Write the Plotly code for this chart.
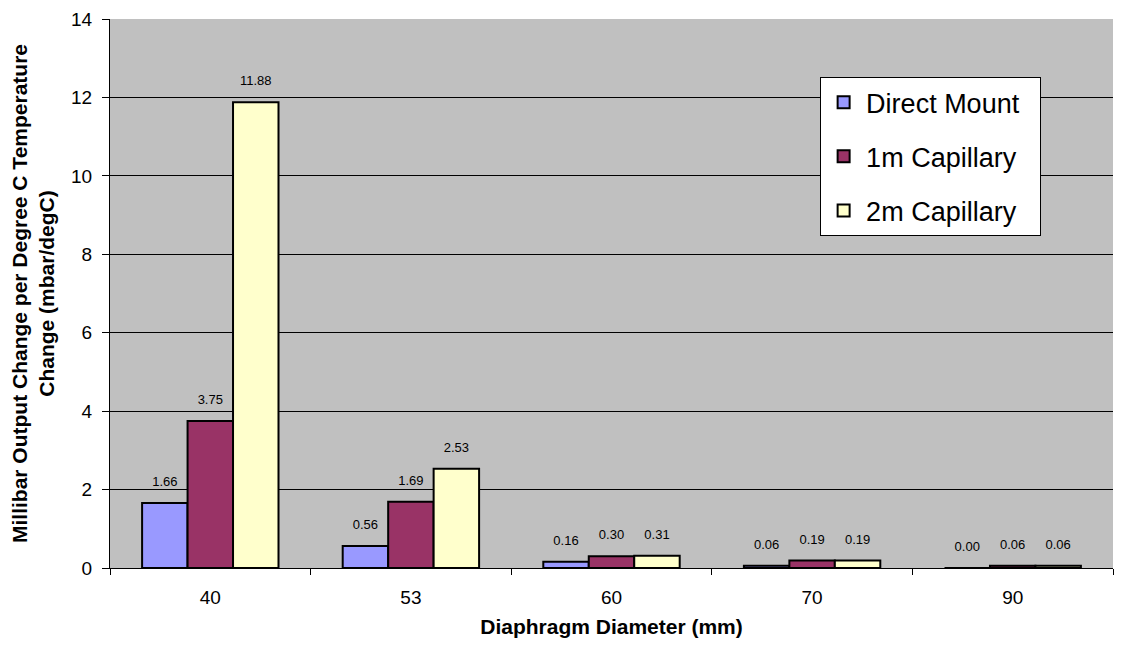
import plotly.graph_objects as go

categories = ["40", "53", "60", "70", "90"]
direct_mount = [1.66, 0.56, 0.16, 0.06, 0.00]
capillary_1m = [3.75, 1.69, 0.30, 0.19, 0.06]
capillary_2m = [11.88, 2.53, 0.31, 0.19, 0.06]
series_names = ["Direct Mount", "1m Capillary", "2m Capillary"]
series_colors = ["#9999FF", "#993366", "#FFFFCC"]
y_ticks = [0, 2, 4, 6, 8, 10, 12, 14]

FONT = "Liberation Sans, Arial, sans-serif"

fig = go.Figure()
all_series = [direct_mount, capillary_1m, capillary_2m]
for name, vals, col in zip(series_names, all_series, series_colors):
    fig.add_trace(go.Bar(
        x=categories, y=vals, name=name + "\u00a0\u00a0", legendgroup=name,
        marker=dict(color=col, line=dict(color="black", width=2)),
    ))
for name, vals in zip(series_names, all_series):
    fig.add_trace(go.Scatter(
        x=categories, y=vals, mode="markers+text", showlegend=False,
        text=[f"{v:.2f}" for v in vals], textposition="top center",
        textfont=dict(family=FONT, size=13, color="black"),
        marker=dict(size=20, opacity=0), hoverinfo="skip",
    ))

fig.update_layout(
    width=1114, height=640,
    margin=dict(l=102, r=9, t=11, b=80, autoexpand=False),
    paper_bgcolor="white", plot_bgcolor="#C0C0C0",
    barmode="group", bargap=0.32, bargroupgap=0,
    scattermode="group", scattergap=0.32,
    font=dict(family=FONT, color="black"),
    legend=dict(
        x=0.708, y=0.894, xanchor="left", yanchor="top",
        bgcolor="white", bordercolor="black", borderwidth=1,
        font=dict(family=FONT, size=27, color="black"),
        traceorder="grouped", tracegroupgap=16, itemwidth=35,
    ),
    showlegend=True,
)
fig.update_xaxes(
    type="category", tickson="boundaries", ticks="outside", ticklen=6,
    tickcolor="black", showline=True, linecolor="black", linewidth=1,
    tickfont=dict(family=FONT, size=19), ticklabelstandoff=12,
    title=dict(text="<b>Diaphragm Diameter (mm)</b>", font=dict(family=FONT, size=21), standoff=12),
    showgrid=False, automargin=False,
)
fig.update_yaxes(
    range=[0, 14], tickvals=y_ticks, ticks="outside", ticklen=7, tickcolor="black",
    showline=True, linecolor="black", linewidth=1,
    showgrid=True, gridcolor="black", gridwidth=1,
    tickfont=dict(family=FONT, size=19), ticklabelstandoff=6,
    title=dict(text="<b>Millibar Output Change per Degree C Temperature<br>Change (mbar/degC)</b>",
               font=dict(family=FONT, size=21), standoff=18),
    zeroline=False, automargin=False,
)

fig.write_html("out.html")
